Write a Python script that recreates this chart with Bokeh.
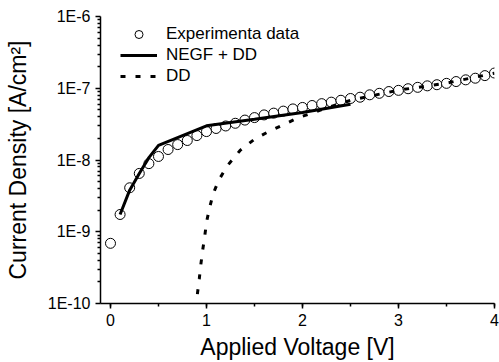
from bokeh.plotting import figure
from bokeh.models import (FixedTicker, CustomJSTickFormatter, Range1d, Legend, LegendItem,
                          SingleIntervalTicker)
from bokeh.embed import file_html
from bokeh.resources import INLINE

# Experimental data (V, A/cm^2)
exp_v = [0.0, 0.1, 0.2, 0.3, 0.4, 0.5, 0.6, 0.7, 0.8, 0.9,
         1.0, 1.1, 1.2, 1.3, 1.4, 1.5, 1.6, 1.7, 1.8, 1.9,
         2.0, 2.1, 2.2, 2.3, 2.4, 2.5, 2.6, 2.7, 2.8, 2.9,
         3.0, 3.1, 3.2, 3.3, 3.4, 3.5, 3.6, 3.7, 3.8, 3.9, 4.0]
exp_j = [6.9e-10, 1.74e-9, 4.1e-9, 6.5e-9, 8.9e-9, 1.12e-8, 1.40e-8, 1.64e-8, 1.87e-8, 2.19e-8,
         2.49e-8, 2.75e-8, 2.98e-8, 3.25e-8, 3.6e-8, 3.9e-8, 4.25e-8, 4.5e-8, 4.8e-8, 5.15e-8,
         5.4e-8, 5.75e-8, 6.1e-8, 6.4e-8, 6.8e-8, 7.2e-8, 7.5e-8, 8.1e-8, 8.5e-8, 9.0e-8,
         9.35e-8, 9.85e-8, 1.03e-7, 1.08e-7, 1.12e-7, 1.17e-7, 1.24e-7, 1.31e-7, 1.38e-7, 1.50e-7, 1.63e-7]

# NEGF + DD simulation
negf_v = [0.1, 0.2, 0.3, 0.4, 0.5, 1.0, 1.5, 2.0, 2.5]
negf_j = [1.74e-9, 3.8e-9, 6.5e-9, 1.08e-8, 1.6e-8, 3.0e-8, 3.7e-8, 4.6e-8, 6.0e-8]

# DD simulation
dd_v = [0.905, 0.925, 0.94, 0.96, 0.98, 1.0, 1.03, 1.07, 1.13, 1.22, 1.35, 1.5, 1.65, 1.8,
        1.96, 2.12, 2.3, 2.5, 3.0, 3.5, 4.0]
dd_j = [1.35e-10, 2.2e-10, 3.4e-10, 5.5e-10, 8.3e-10, 1.35e-9, 2.1e-9, 3.4e-9, 5.3e-9, 8.4e-9,
        1.36e-8, 1.95e-8, 2.5e-8, 3.1e-8, 3.9e-8, 4.6e-8, 5.6e-8, 6.8e-8, 9.4e-8, 1.18e-7, 1.62e-7]

y_major = [1e-10, 1e-9, 1e-8, 1e-7, 1e-6]
y_minor = [m * d for d in [1e-10, 1e-9, 1e-8, 1e-7] for m in range(2, 10)]

FONT = "Liberation Sans"

p = figure(width=499, height=362, y_axis_type="log",
           x_range=Range1d(-0.104, 4.0), y_range=Range1d(1e-10, 1e-6),
           output_backend="svg", toolbar_location=None,
           min_border_left=100, min_border_right=5, min_border_top=16, min_border_bottom=59)
p.outline_line_color = None
p.xgrid.visible = False
p.ygrid.visible = False

r_exp = p.scatter(exp_v, exp_j, marker="circle", size=10, fill_color="white",
                  line_color="black", line_width=1)
r_negf = p.line(negf_v, negf_j, line_color="black", line_width=3)
r_dd = p.line(dd_v, dd_j, line_color="black", line_width=3, line_dash="5 10")

p.xaxis.ticker = SingleIntervalTicker(interval=1, num_minor_ticks=2)
p.yaxis.ticker = FixedTicker(ticks=y_major, minor_ticks=y_minor)
p.yaxis.formatter = CustomJSTickFormatter(code="return '1E' + Math.round(Math.log10(tick));")

for ax in (p.xaxis[0], p.yaxis[0]):
    ax.axis_line_width = 1.5
    ax.major_tick_line_width = 1.5
    ax.minor_tick_line_width = 1.5
    ax.major_tick_in = 0
    ax.major_tick_out = 5
    ax.minor_tick_in = 0
    ax.minor_tick_out = 3
    ax.major_label_text_font = FONT
    ax.major_label_text_font_size = "16px"
    ax.major_label_text_color = "black"
    ax.axis_label_text_font = FONT
    ax.axis_label_text_font_size = "23px"
    ax.axis_label_text_font_style = "normal"
    ax.axis_label_text_color = "black"
    ax.major_label_standoff = 5

p.xaxis.axis_label = "Applied Voltage [V]"
p.yaxis.axis_label = "Current Density [A/cm²]"
p.xaxis.axis_label_standoff = 5
p.yaxis.axis_label_standoff = 14

legend = Legend(items=[LegendItem(label="Experimenta data", renderers=[r_exp]),
                       LegendItem(label="NEGF + DD", renderers=[r_negf]),
                       LegendItem(label="DD", renderers=[r_dd])],
                location=(20, 217))
legend.border_line_color = None
legend.background_fill_alpha = 0
legend.label_text_font = FONT
legend.label_text_font_size = "17px"
legend.label_text_color = "black"
legend.glyph_width = 37
legend.glyph_height = 20
legend.label_height = 20
legend.label_standoff = 9
legend.spacing = 1
legend.padding = 0
legend.margin = 0
p.add_layout(legend)

open("out.html", "w").write(file_html(p, INLINE))
